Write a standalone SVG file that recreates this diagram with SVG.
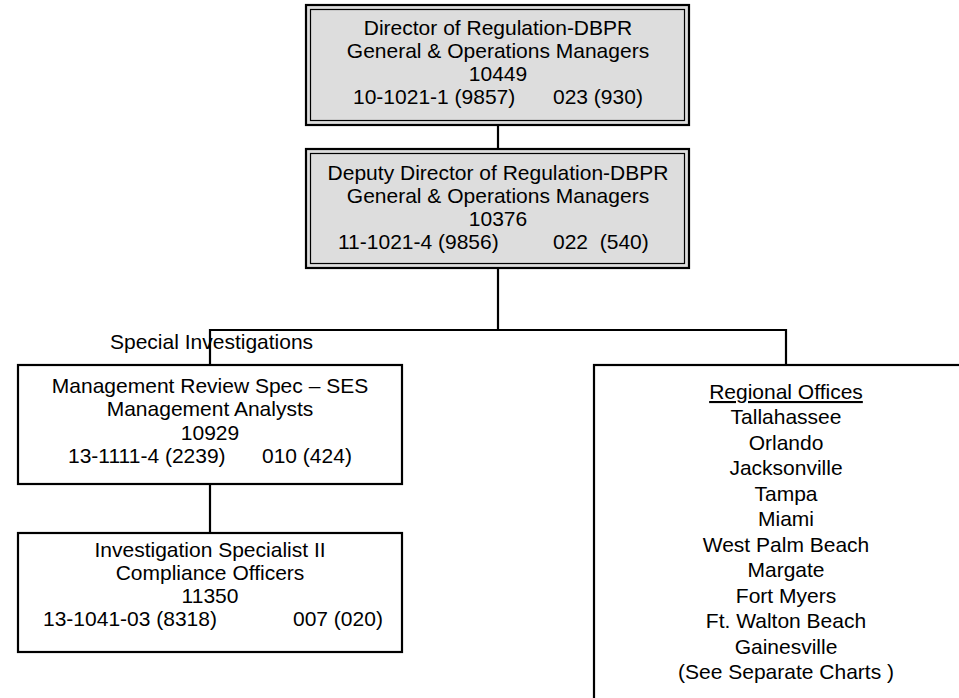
<svg xmlns="http://www.w3.org/2000/svg" width="959" height="698" viewBox="0 0 959 698">
  <style>
    text { font-family: "Liberation Sans", Arial, sans-serif; font-size: 21px; fill: #000; }
    .c { text-anchor: middle; }
    .outer { fill: #dddddd; stroke: #000; stroke-width: 2.2; }
    .inner { fill: #dddddd; stroke: #000; stroke-width: 1.2; }
    .box { fill: #fff; stroke: #000; stroke-width: 2.2; }
    .link { fill: none; stroke: #000; stroke-width: 2.2; }
  </style>
  <rect width="959" height="698" fill="#fff"/>

  <g id="connectors">
    <line class="link" x1="498" y1="125" x2="498" y2="149"/>
    <line class="link" x1="498" y1="268" x2="498" y2="330"/>
    <polyline class="link" points="210,365 210,330 786,330 786,365"/>
    <line class="link" x1="210" y1="484" x2="210" y2="533"/>
  </g>

  <g id="director">
    <rect class="outer" x="306" y="5" width="383" height="120"/>
    <rect class="inner" x="310.5" y="9.5" width="374" height="111"/>
    <text class="c" x="498" y="35">Director of Regulation-DBPR</text>
    <text class="c" x="498" y="58">General &amp; Operations Managers</text>
    <text class="c" x="498" y="81">10449</text>
    <text x="353" y="104">10-1021-1 (9857)</text>
    <text x="553" y="104">023 (930)</text>
  </g>

  <g id="deputy-director">
    <rect class="outer" x="306" y="149" width="383" height="119"/>
    <rect class="inner" x="310.5" y="153.5" width="374" height="110"/>
    <text class="c" x="498" y="180">Deputy Director of Regulation-DBPR</text>
    <text class="c" x="498" y="203">General &amp; Operations Managers</text>
    <text class="c" x="498" y="226">10376</text>
    <text x="338" y="249">11-1021-4 (9856)</text>
    <text x="553" y="249" xml:space="preserve">022  (540)</text>
  </g>

  <text id="special-investigations-label" x="110" y="349">Special Investigations</text>

  <g id="management-review">
    <rect class="box" x="18" y="365" width="384" height="119"/>
    <text class="c" x="210" y="393">Management Review Spec – SES</text>
    <text class="c" x="210" y="416">Management Analysts</text>
    <text class="c" x="210" y="440">10929</text>
    <text x="68" y="463">13-1111-4 (2239)</text>
    <text x="262" y="463">010 (424)</text>
  </g>

  <g id="investigation-specialist">
    <rect class="box" x="18" y="533" width="384" height="119"/>
    <text class="c" x="210" y="557">Investigation Specialist II</text>
    <text class="c" x="210" y="580">Compliance Officers</text>
    <text class="c" x="210" y="603">11350</text>
    <text x="43" y="626">13-1041-03 (8318)</text>
    <text x="293" y="626">007 (020)</text>
  </g>

  <g id="regional-offices">
    <rect class="box" x="594" y="365" width="384" height="400"/>
    <text class="c" x="786" y="399" text-decoration="underline">Regional Offices</text>
    <text class="c" x="786" y="424">Tallahassee</text>
    <text class="c" x="786" y="450">Orlando</text>
    <text class="c" x="786" y="475">Jacksonville</text>
    <text class="c" x="786" y="501">Tampa</text>
    <text class="c" x="786" y="526">Miami</text>
    <text class="c" x="786" y="552">West Palm Beach</text>
    <text class="c" x="786" y="577">Margate</text>
    <text class="c" x="786" y="603">Fort Myers</text>
    <text class="c" x="786" y="628">Ft. Walton Beach</text>
    <text class="c" x="786" y="654">Gainesville</text>
    <text class="c" x="786" y="679">(See Separate Charts )</text>
  </g>
</svg>
